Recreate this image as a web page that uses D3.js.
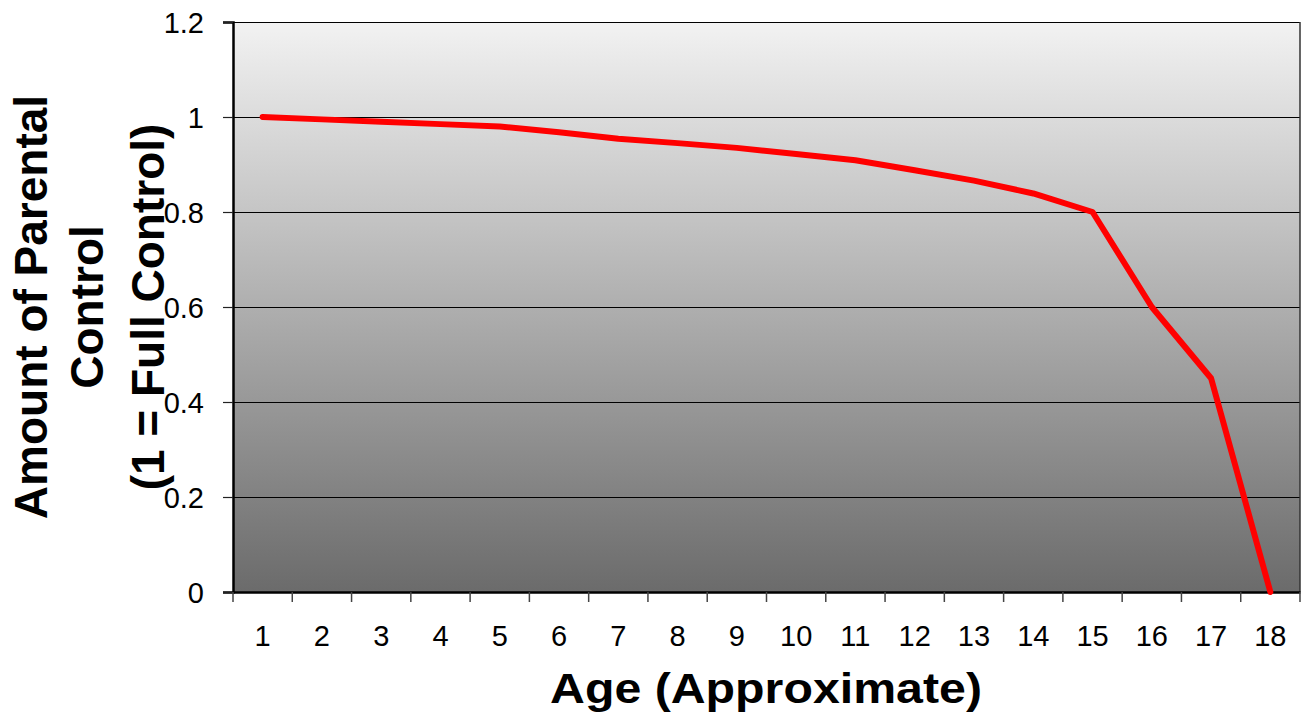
<!DOCTYPE html>
<html>
<head>
<meta charset="utf-8">
<script src="https://cdn.jsdelivr.net/npm/d3@7"></script>
<style>
  html, body { margin: 0; padding: 0; background: #fff; }
  svg { display: block; font-family: "Liberation Sans", Arial, sans-serif; }
</style>
</head>
<body>
<svg id="chart" width="1302" height="725"></svg>
<script>
const ages = [1, 2, 3, 4, 5, 6, 7, 8, 9, 10, 11, 12, 13, 14, 15, 16, 17, 18];
const control = [1.0, 0.995, 0.99, 0.985, 0.98, 0.968, 0.954, 0.945, 0.935, 0.922, 0.909, 0.888, 0.866, 0.839, 0.8, 0.6, 0.45, 0.0];
const yTicks = [0, 0.2, 0.4, 0.6, 0.8, 1, 1.2];
const xTitle = "Age (Approximate)";
const yTitleLines = ["Amount of Parental", "Control", "(1 = Full Control)"];

const svg = d3.select("#chart");
const L = 233, R = 1300, T = 22, B = 592;

const x = d3.scaleBand().domain(ages).range([L, R]).paddingInner(0).paddingOuter(0);
const y = d3.scaleLinear().domain([0, 1.2]).range([B, T]);

// gradient background
const defs = svg.append("defs");
const grad = defs.append("linearGradient").attr("id", "bg").attr("x1", 0).attr("y1", 0).attr("x2", 0).attr("y2", 1);
grad.append("stop").attr("offset", "0%").attr("stop-color", "#f2f2f2");
grad.append("stop").attr("offset", "100%").attr("stop-color", "#6b6b6b");

svg.append("rect").attr("x", L).attr("y", T).attr("width", R - L).attr("height", B - T).attr("fill", "url(#bg)");

// gridlines
svg.append("g").selectAll("line").data(yTicks.filter(d => d > 0)).join("line")
  .attr("x1", L).attr("x2", R).attr("y1", d => Math.round(y(d)) + 0.5).attr("y2", d => Math.round(y(d)) + 0.5)
  .attr("stroke", "#000").attr("stroke-width", 1);

// right border
svg.append("line").attr("x1", R).attr("x2", R).attr("y1", T).attr("y2", B)
  .attr("stroke", "#333").attr("stroke-width", 1.5);

// y axis
const yAxis = d3.axisLeft(y).tickValues(yTicks).tickSize(10).tickPadding(19)
  .tickFormat(d => d3.format("~g")(d));
const gy = svg.append("g").attr("transform", `translate(${L},0)`).call(yAxis);
gy.select(".domain").attr("stroke", "#000").attr("stroke-width", 2.5);
gy.selectAll(".tick line").attr("stroke", "#222").attr("stroke-width", 1.2);
gy.selectAll(".tick text").attr("font-size", 29).attr("fill", "#000")
  .attr("font-family", "'Liberation Sans', Arial, sans-serif").attr("dy", "0.36em");

// x axis
const xAxis = d3.axisBottom(x).tickSize(0).tickPadding(54);
const gx = svg.append("g").attr("transform", `translate(0,${B})`).call(xAxis);
gx.select(".domain").attr("stroke", "#000").attr("stroke-width", 2.5);
gx.selectAll(".tick text").attr("font-size", 29).attr("fill", "#000")
  .attr("font-family", "'Liberation Sans', Arial, sans-serif").attr("dy", "0");
// boundary ticks
const bounds = ages.map(a => x(a)).concat([R]);
gx.append("g").selectAll("line").data(bounds).join("line")
  .attr("x1", d => d).attr("x2", d => d).attr("y1", 0).attr("y2", 10)
  .attr("stroke", "#444").attr("stroke-width", 1.5);

// line
const line = d3.line().x((d, i) => x(ages[i]) + x.bandwidth() / 2).y(d => y(d));
svg.append("path").datum(control).attr("d", line)
  .attr("fill", "none").attr("stroke", "#ff0000").attr("stroke-width", 6)
  .attr("stroke-linejoin", "round").attr("stroke-linecap", "round");

// x title
svg.append("text").attr("x", 766).attr("y", 703).attr("text-anchor", "middle")
  .attr("font-size", 42).attr("font-weight", "bold")
  .attr("textLength", 432).attr("lengthAdjust", "spacingAndGlyphs")
  .text(xTitle);

// y title
const yt = svg.append("text").attr("transform", "translate(0,307) rotate(-90)")
  .attr("text-anchor", "middle").attr("font-size", 46).attr("font-weight", "bold");
const lineX = [47, 103, 164];
yTitleLines.forEach((t, i) => {
  yt.append("tspan").attr("x", 0).attr("y", lineX[i]).text(t);
});
</script>
</body>
</html>
